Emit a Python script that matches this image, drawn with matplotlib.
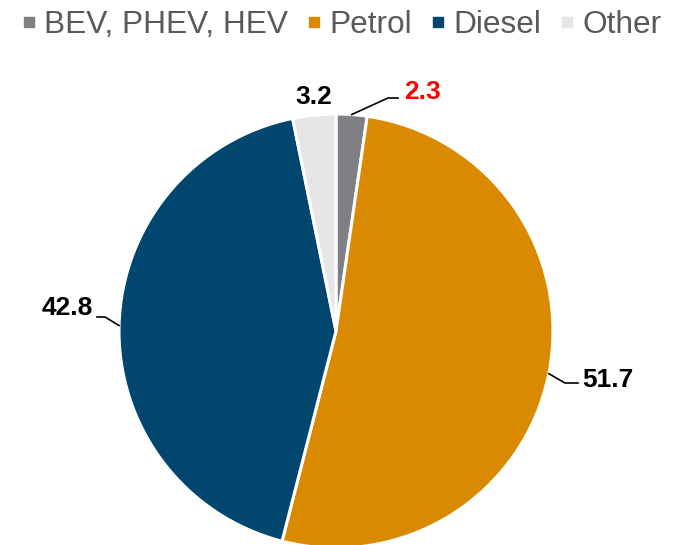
import numpy as np
import matplotlib
matplotlib.use("Agg")
import matplotlib.pyplot as plt
from matplotlib.lines import Line2D

plt.rcParams['font.family'] = ['Liberation Sans', 'DejaVu Sans']

categories = ["BEV, PHEV, HEV", "Petrol", "Diesel", "Other"]
shares = [2.3, 51.7, 42.8, 3.2]
labels = ["2.3", "51.7", "42.8", "3.2"]
colors = ["#7f7f84", "#d98a00", "#00466e", "#e6e6e8"]
label_colors = ["#ff0000", "#000000", "#000000", "#000000"]

W, H = 682, 545
cx, cy, R = 336, 214, 217

fig = plt.figure(figsize=(W / 100, H / 100), dpi=100)
ax = fig.add_axes([0, 0, 1, 1])
wedges, _ = ax.pie(shares, colors=colors, startangle=90, counterclock=False,
                   radius=R, center=(cx, cy),
                   wedgeprops=dict(edgecolor="white", linewidth=2.2))
ax.set_xlim(0, W)
ax.set_ylim(0, H)
ax.set_aspect("auto")
ax.axis("off")

# label text anchor, elbow and end of leader (None = no leader)
label_pos = [
    dict(xy=(404, 453), ha="left", leader=[(388, 447), (398, 447)]),
    dict(xy=(582, 165), ha="left", leader=[(565, 162), (578, 162)]),
    dict(xy=(93, 237), ha="right", leader=[(105, 228), (97, 228)]),
    dict(xy=(314, 448), ha="center", leader=None),
]

for w, lab, col, p in zip(wedges, labels, label_colors, label_pos):
    ang = np.deg2rad((w.theta1 + w.theta2) / 2)
    ex, ey = cx + R * np.cos(ang), cy + R * np.sin(ang)
    if p["leader"] is not None:
        pts = [(ex, ey)] + p["leader"]
        ax.plot([q[0] for q in pts], [q[1] for q in pts], color="black", lw=1.2)
    ax.text(p["xy"][0], p["xy"][1], lab, ha=p["ha"], va="center",
            fontsize=19, fontweight="bold", color=col)

handles = [Line2D([], [], marker="s", linestyle="none", markersize=7.5,
                  markerfacecolor=c, markeredgecolor=c) for c in colors]
fig.legend(handles, categories, loc="upper center", bbox_to_anchor=(0.502, 1.005),
           ncol=4, frameon=False, fontsize=22.8, labelcolor="#595959",
           handletextpad=0.3, columnspacing=0.65, borderaxespad=0.0,
           handlelength=0.35)

fig.savefig("out.png", dpi=100)
